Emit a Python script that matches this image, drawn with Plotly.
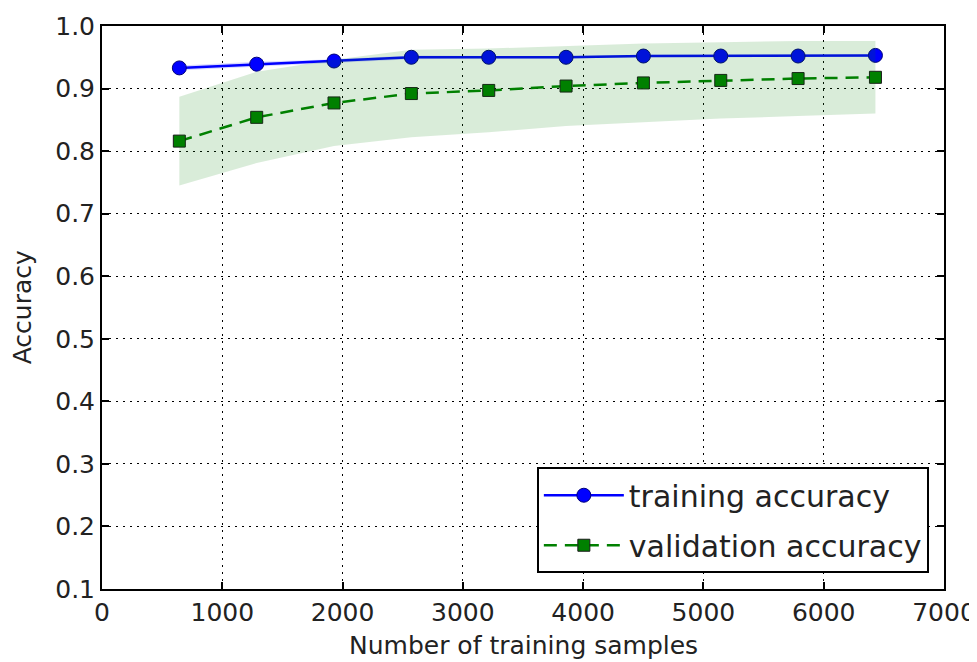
import plotly.graph_objects as go

train_sizes = [643, 1286, 1929, 2572, 3215, 3858, 4501, 5144, 5787, 6430]
train_mean = [0.933, 0.939, 0.944, 0.950, 0.950, 0.950, 0.952, 0.952, 0.952, 0.953]
train_std = [0.004, 0.004, 0.003, 0.003, 0.002, 0.002, 0.002, 0.002, 0.002, 0.002]
val_mean = [0.816, 0.854, 0.877, 0.892, 0.897, 0.904, 0.909, 0.913, 0.916, 0.918]
val_std = [0.071, 0.073, 0.069, 0.070, 0.067, 0.064, 0.063, 0.061, 0.060, 0.058]

x_ticks = [0, 1000, 2000, 3000, 4000, 5000, 6000, 7000]
y_ticks = [0.1, 0.2, 0.3, 0.4, 0.5, 0.6, 0.7, 0.8, 0.9, 1.0]

tr_up = [m + s for m, s in zip(train_mean, train_std)]
tr_lo = [m - s for m, s in zip(train_mean, train_std)]
va_up = [m + s for m, s in zip(val_mean, val_std)]
va_lo = [m - s for m, s in zip(val_mean, val_std)]

fig = go.Figure()

fig.add_trace(go.Scatter(x=train_sizes, y=train_mean, mode="lines+markers",
                         name="training accuracy", legendgroup="a",
                         line=dict(color="#0000ff", width=2.5),
                         marker=dict(symbol="circle", size=14, color="#0000ff",
                                     line=dict(color="#00007a", width=1))))
fig.add_trace(go.Scatter(x=train_sizes, y=tr_up, mode="lines", line=dict(width=0),
                         showlegend=False, hoverinfo="skip"))
fig.add_trace(go.Scatter(x=train_sizes, y=tr_lo, mode="lines", line=dict(width=0),
                         fill="tonexty", fillcolor="rgba(0,0,255,0.15)",
                         showlegend=False, hoverinfo="skip"))

fig.add_trace(go.Scatter(x=train_sizes, y=val_mean, mode="lines+markers",
                         name="validation accuracy", legendgroup="b",
                         line=dict(color="#008000", width=2.5, dash="13px,8px"),
                         marker=dict(symbol="square", size=12, color="#008000",
                                     line=dict(color="#1a1a1a", width=1))))
fig.add_trace(go.Scatter(x=train_sizes, y=va_up, mode="lines", line=dict(width=0),
                         showlegend=False, hoverinfo="skip"))
fig.add_trace(go.Scatter(x=train_sizes, y=va_lo, mode="lines", line=dict(width=0),
                         fill="tonexty", fillcolor="rgba(0,128,0,0.15)",
                         showlegend=False, hoverinfo="skip"))

axis_common = dict(
    showline=True, linecolor="black", linewidth=2, mirror="allticks",
    ticks="inside", ticklen=7, tickwidth=1.5, tickcolor="black",
    showgrid=True, gridcolor="black", gridwidth=1, griddash="2px,5px",
    zeroline=False, automargin=False,
    tickfont=dict(family="DejaVu Sans", size=25, color="#222"),
)

fig.update_xaxes(range=[0, 7000], tickvals=x_ticks,
                 ticktext=[str(v) for v in x_ticks], **axis_common)
fig.update_yaxes(range=[0.1, 1.0], tickvals=y_ticks,
                 ticktext=[f"{v:.1f}" for v in y_ticks], **axis_common)

fig.add_annotation(text="Number of training samples", xref="paper", yref="paper",
                   x=0.5, y=-0.101, xanchor="center", yanchor="middle",
                   showarrow=False,
                   font=dict(family="DejaVu Sans", size=25, color="#222"))
fig.add_annotation(text="Accuracy", xref="paper", yref="paper",
                   x=-0.094, y=0.5, xanchor="center", yanchor="middle",
                   textangle=-90, showarrow=False,
                   font=dict(family="DejaVu Sans", size=25, color="#222"))

fig.update_layout(
    width=977, height=662,
    margin=dict(l=94, r=41, t=18, b=81),
    paper_bgcolor="white", plot_bgcolor="white",
    showlegend=True,
    legend=dict(x=0.982, y=0.028, xanchor="right", yanchor="bottom",
                bgcolor="white", bordercolor="black", borderwidth=2,
                font=dict(family="DejaVu Sans", size=30, color="#222"),
                itemwidth=80, tracegroupgap=8, traceorder="grouped"),
)

fig.write_html("out.html")
